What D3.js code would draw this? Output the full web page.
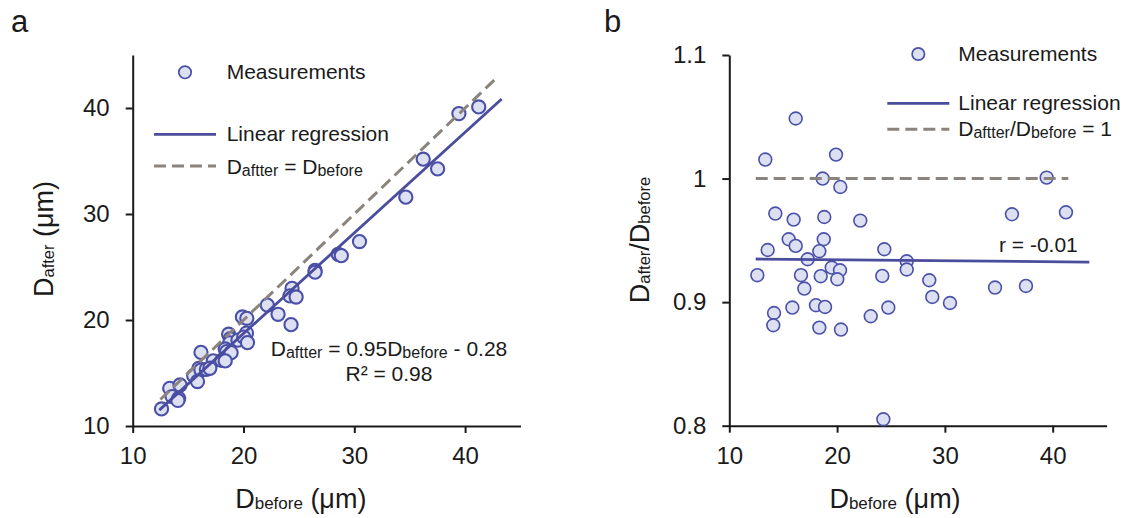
<!DOCTYPE html>
<html><head><meta charset="utf-8">
<script src="https://cdn.jsdelivr.net/npm/d3@7"></script>
<style>body{margin:0;background:#fff} svg{display:block}</style>
</head><body>
<svg id="c" width="1126" height="518"></svg>
<script>
// ---- data ----
const dBefore = [16.16,13.34,19.90,18.66,20.30,39.44,14.27,15.97,18.81,22.15,36.22,41.23,15.51,16.16,18.76,13.56,18.35,24.38,17.27,19.50,20.27,26.46,26.46,12.60,16.65,18.48,20.02,24.19,28.55,16.96,34.65,37.52,28.83,30.47,15.85,18.04,18.88,24.75,14.15,23.12,14.08,18.35,20.36,24.29];
const dAfter  = [16.95,13.55,20.29,18.66,20.16,39.47,13.87,15.44,18.23,21.40,35.17,40.10,14.75,15.28,17.84,12.78,17.27,22.99,16.14,18.10,18.77,24.69,24.51,11.61,15.35,17.02,18.39,22.28,26.20,15.45,31.59,34.26,26.07,27.40,14.20,16.19,16.92,22.17,12.61,20.54,12.41,16.14,17.87,19.56];
const ratio   = [1.0486,1.0154,1.0194,1.0000,0.9932,1.0008,0.9717,0.9668,0.9689,0.9660,0.9711,0.9727,0.9509,0.9455,0.9509,0.9422,0.9412,0.9428,0.9347,0.9280,0.9258,0.9331,0.9264,0.9218,0.9218,0.9210,0.9185,0.9212,0.9177,0.9110,0.9118,0.9131,0.9042,0.8993,0.8956,0.8975,0.8961,0.8956,0.8912,0.8886,0.8813,0.8794,0.8778,0.8052];
const xTicks = [10,20,30,40];
const yTicksA = [10,20,30,40];
const yTicksB = [0.8,0.9,1,1.1];
const yTickLabelsB = ["0.8","0.9","1","1.1"];
const regLineA = [[12.4,11.5],[43.3,40.85]];
const unityLineA = [[12.5,12.5],[43,43]];
const regLineB = [[12.45,0.9349],[43.4,0.9324]];
const unityLineB = [[12.45,1],[41.45,1]];

// ---- style ----
const FONT = "'Liberation Sans', Arial, Helvetica, sans-serif";
const INK = "#1a1a1a";
const PT_FILL = "#dde0f1", PT_STROKE = "#4a50a8";
const REG = "#4a4c9c", UNITY = "#8b847e";
const DASH = "12,6";

const svg = d3.select("#c");

function rich(g, x, y, parts, opts) {
  opts = opts || {};
  const big = opts.big || 21, small = opts.small || 16, shift = opts.shift || 2;
  const t = g.append("text").attr("x", x).attr("y", y)
    .attr("font-family", FONT).attr("font-size", big).attr("fill", INK)
    .attr("text-anchor", opts.anchor || "start");
  if (opts.rotate) t.attr("transform", `rotate(-90,${x},${y})`);
  let cur = 0;
  parts.forEach(p => {
    const isSub = p[1] === 1;
    const target = isSub ? shift : 0;
    const ts = t.append("tspan").text(p[0]).attr("font-size", isSub ? small : big);
    if (target !== cur) { ts.attr("dy", target - cur); cur = target; }
  });
  return t;
}

function styleAxis(g, fs) {
  g.attr("font-family", FONT).attr("font-size", fs).attr("color", INK);
  g.select(".domain").attr("stroke-width", 2);
  g.selectAll(".tick line").attr("stroke-width", 2);
}

function panel(cfg) {
  const x = d3.scaleLinear().domain([10, 45]).range(cfg.xr);
  const y = d3.scaleLinear().domain(cfg.yd).range(cfg.yr);
  const g = svg.append("g");
  const gx = g.append("g").attr("transform", `translate(0,${cfg.yr[0]})`)
    .call(d3.axisBottom(x).tickValues(xTicks).tickSize(7).tickSizeOuter(0).tickPadding(14).tickFormat(d3.format("d")));
  styleAxis(gx, 24);
  const gy = g.append("g").attr("transform", `translate(${cfg.xr[0]},0)`)
    .call(d3.axisLeft(y).tickValues(cfg.yt).tickSize(7).tickSizeOuter(0).tickPadding(16).tickFormat(cfg.yf));
  styleAxis(gy, 24);
  // points
  g.append("g").selectAll("circle").data(dBefore.map((d, i) => [d, cfg.yv[i]])).join("circle")
    .attr("cx", d => x(d[0])).attr("cy", d => y(d[1])).attr("r", cfg.r)
    .attr("fill", PT_FILL).attr("stroke", PT_STROKE).attr("stroke-width", cfg.sw);
  const line = d3.line().x(d => x(d[0])).y(d => y(d[1]));
  g.append("path").attr("d", line(cfg.unity)).attr("fill", "none")
    .attr("stroke", UNITY).attr("stroke-width", 3).attr("stroke-dasharray", DASH);
  g.append("path").attr("d", line(cfg.reg)).attr("fill", "none")
    .attr("stroke", REG).attr("stroke-width", 2.8);
  return g;
}

// ---- panel a ----
const ga = panel({xr: [132.7, 520.5], yd: [10, 45], yr: [426, 55], yt: yTicksA, yf: d3.format("d"),
  yv: dAfter, unity: unityLineA, reg: regLineA, r: 6.6, sw: 2.1});
// ---- panel b ----
const gb = panel({xr: [729.3, 1106.6], yd: [0.8, 1.1], yr: [425.7, 55], yt: yTicksB,
  yf: (d, i) => yTickLabelsB[i], yv: ratio, unity: unityLineB, reg: regLineB, r: 6.4, sw: 1.6});

// panel letters
svg.append("text").attr("x", 11).attr("y", 32).attr("font-family", FONT).attr("font-size", 31).attr("fill", INK).text("a");
svg.append("text").attr("x", 604).attr("y", 31.5).attr("font-family", FONT).attr("font-size", 31).attr("fill", INK).text("b");

// axis titles
rich(svg, 300.8, 508, [["D"],["before",1],[" (μm)"]], {big: 27, small: 17, shift: 1, anchor: "middle"});
rich(svg, 895, 508, [["D"],["before",1],[" (μm)"]], {big: 27, small: 17, shift: 1, anchor: "middle"});
rich(svg, 53, 239, [["D"],["after",1],[" (μm)"]], {big: 27, small: 16.5, shift: 1, anchor: "middle", rotate: true});
rich(svg, 649, 240, [["D"],["after",1],["/D"],["before",1]], {big: 27, small: 16.5, shift: 1, anchor: "middle", rotate: true});

// legends
function legend(mx, my, lx0, lx1, ly1, ly2, tx, tb, lab3) {
  svg.append("circle").attr("cx", mx).attr("cy", my).attr("r", 6.2)
    .attr("fill", PT_FILL).attr("stroke", PT_STROKE).attr("stroke-width", 1.7);
  rich(svg, tx, tb[0], [["Measurements"]]);
  svg.append("line").attr("x1", lx0).attr("x2", lx1).attr("y1", ly1).attr("y2", ly1)
    .attr("stroke", REG).attr("stroke-width", 2.8);
  rich(svg, tx, tb[1], [["Linear regression"]]);
  svg.append("line").attr("x1", lx0).attr("x2", lx1).attr("y1", ly2).attr("y2", ly2)
    .attr("stroke", UNITY).attr("stroke-width", 3).attr("stroke-dasharray", DASH);
  rich(svg, tx, tb[2], lab3);
}
legend(185, 72.3, 154, 216, 134.3, 166, 226.7, [79.3, 140.7, 174],
  [["D"],["aftter",1],[" = D"],["before",1]]);
legend(918.3, 54, 887.3, 949.3, 103.3, 129.3, 958.3, [60.7, 110, 136],
  [["D"],["aftter",1],["/D"],["before",1],[" = 1"]]);

// annotations
rich(svg, 389, 356, [["D"],["aftter",1],[" = 0.95D"],["before",1],[" - 0.28"]], {anchor: "middle"});
rich(svg, 389, 380.7, [["R² = 0.98"]], {anchor: "middle"});
rich(svg, 999, 252.3, [["r = -0.01"]]);
</script>
</body></html>
